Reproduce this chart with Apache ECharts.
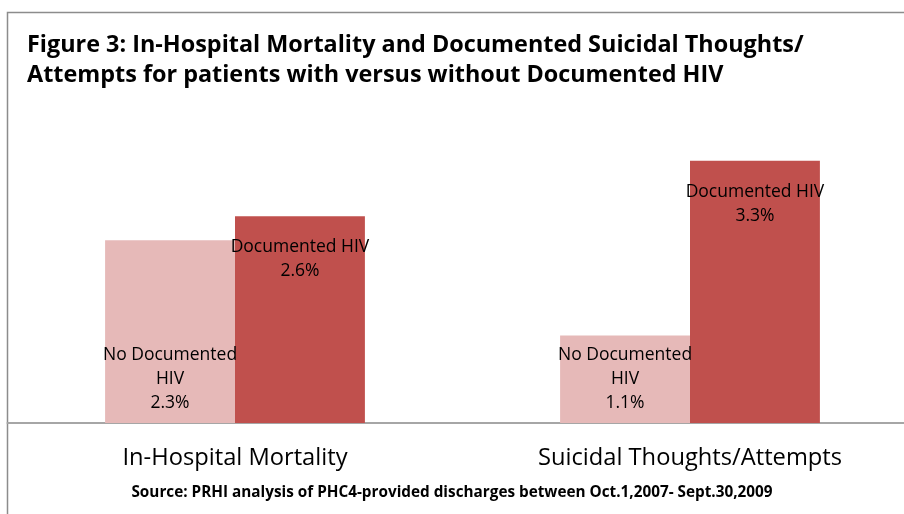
<!DOCTYPE html>
<html>
<head>
<meta charset="utf-8">
<script src="https://cdn.jsdelivr.net/npm/echarts@6/dist/echarts.min.js"></script>
<style>
  html, body { margin: 0; padding: 0; background: #fff; }
  #chart { width: 904px; height: 514px; }
</style>
</head>
<body>
<div id="chart"></div>
<script>
// chart data
const categories = ['In-Hospital Mortality', 'Suicidal Thoughts/Attempts'];
const noHivName = 'No Documented HIV';
const hivName = 'Documented HIV';
const noHivValues = [2.3, 1.1];
const hivValues = [2.6, 3.3];

const fontFamily = '"Open Sans", "Noto Sans", sans-serif';

let myChart = echarts.init(document.getElementById('chart'));

let option = {
  backgroundColor: '#fff',
  animation: false,
  title: {
    text: 'Figure 3: In-Hospital Mortality and Documented Suicidal Thoughts/\nAttempts for patients with versus without Documented HIV',
    left: 22,
    top: 25,
    textStyle: {
      fontFamily: fontFamily,
      fontSize: 23.4,
      fontWeight: 'bold',
      color: '#000',
      lineHeight: 30
    }
  },
  graphic: [{
    // outer frame (runs off right / bottom edge)
    type: 'rect',
    shape: { x: 7.5, y: 12.5, width: 1000, height: 1000 },
    style: { fill: 'none', stroke: '#8c8c8c', lineWidth: 1.5 },
    silent: true
  }, {
    type: 'text',
    left: 'center',
    top: 485,
    style: {
      text: 'Source: PRHI analysis of PHC4-provided discharges between Oct.1,2007- Sept.30,2009',
      fontFamily: fontFamily,
      fontSize: 15.3,
      fontWeight: 'bold',
      fill: '#000'
    }
  }],
  grid: {
    left: 7.5,
    right: -13.5,
    top: 105,
    bottom: 91,
    containLabel: false,
    outerBoundsMode: 'none'
  },
  xAxis: {
    type: 'category',
    data: categories,
    axisLine: { lineStyle: { color: '#a6a6a6', width: 2 } },
    axisTick: { show: false },
    axisLabel: {
      margin: 23,
      fontFamily: fontFamily,
      fontSize: 23.7,
      color: '#000'
    }
  },
  yAxis: {
    type: 'value',
    min: 0,
    max: 4,
    show: false,
    splitLine: { show: false }
  },
  series: [{
    name: noHivName,
    type: 'bar',
    data: noHivValues,
    barGap: '0%',
    barCategoryGap: '42.9%',
    itemStyle: { color: '#e6b9b8' },
    label: {
      show: true,
      position: 'insideBottom',
      distance: 8,
      formatter: function (p) {
        return 'No Documented\nHIV\n' + p.value.toFixed(1) + '%';
      },
      fontFamily: fontFamily,
      fontSize: 17.5,
      lineHeight: 24,
      color: '#000',
      align: 'center'
    }
  }, {
    name: hivName,
    type: 'bar',
    data: hivValues,
    barGap: '0%',
    barCategoryGap: '42.9%',
    itemStyle: { color: '#c0504d' },
    label: {
      show: true,
      position: 'insideTop',
      distance: 19,
      formatter: function (p) {
        return 'Documented HIV\n' + p.value.toFixed(1) + '%';
      },
      fontFamily: fontFamily,
      fontSize: 17.5,
      lineHeight: 24,
      color: '#000',
      align: 'center'
    }
  }]
};

myChart.setOption(option, true);

window.addEventListener('resize', () => {
  myChart.resize();
});
</script>
</body>
</html>
